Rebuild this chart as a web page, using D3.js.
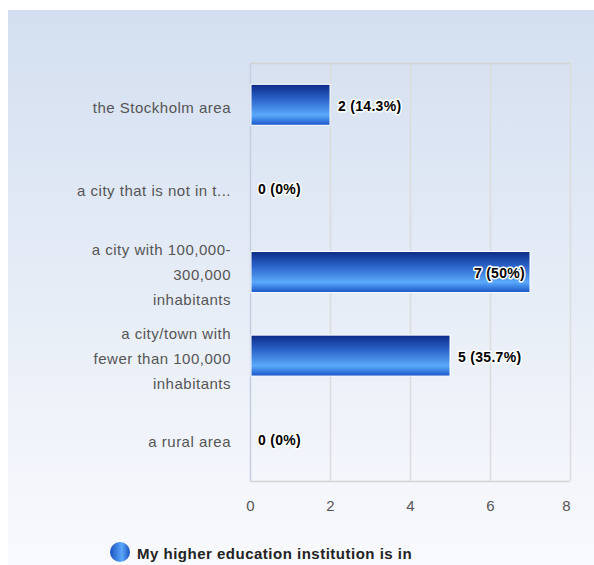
<!DOCTYPE html>
<html><head><meta charset="utf-8">
<script src="https://cdn.jsdelivr.net/npm/d3@7"></script>
<style>body{margin:0;background:#fff;}svg{display:block;font-family:Arial,"Liberation Sans",sans-serif;}</style>
</head><body><svg id="c" width="594" height="565"></svg>
<script>
const categories = [
  ["the Stockholm area"],
  ["a city that is not in t..."],
  ["a city with 100,000-","300,000","inhabitants"],
  ["a city/town with","fewer than 100,000","inhabitants"],
  ["a rural area"]
];
const counts = [2, 0, 7, 5, 0];
const percents = ["14.3%", "0%", "50%", "35.7%", "0%"];
const xTicks = [0, 2, 4, 6, 8];
const seriesName = "My higher education institution is in";

(function(){
const svg = d3.select("#c");
const defs = svg.append("defs");
const bg = defs.append("linearGradient").attr("id","bg").attr("x1",0).attr("y1",0).attr("x2",0).attr("y2",1);
bg.append("stop").attr("offset","0%").attr("stop-color","#d3dff0");
bg.append("stop").attr("offset","100%").attr("stop-color","#f9fafd");
const bar = defs.append("linearGradient").attr("id","bar").attr("x1",0).attr("y1",0).attr("x2",0).attr("y2",1);
bar.append("stop").attr("offset","0%").attr("stop-color","#0b2a86");
bar.append("stop").attr("offset","35%").attr("stop-color","#2a62c8");
bar.append("stop").attr("offset","75%").attr("stop-color","#5aa9fb");
bar.append("stop").attr("offset","100%").attr("stop-color","#1a55c8");
const leg = defs.append("linearGradient").attr("id","leg").attr("x1",0).attr("y1",0).attr("x2",1).attr("y2",0);
leg.append("stop").attr("offset","0%").attr("stop-color","#1a50c0");
leg.append("stop").attr("offset","60%").attr("stop-color","#5aa9fb");
leg.append("stop").attr("offset","100%").attr("stop-color","#1a50c0");

svg.append("rect").attr("x",8).attr("y",10).attr("width",586).attr("height",555).attr("fill","url(#bg)");

const pLeft = 250, pRight = 570, pTop = 63, pBottom = 481;
const x = d3.scaleLinear().domain([0, 8]).range([pLeft, pRight]);
const y = d3.scaleBand().domain(d3.range(categories.length)).range([pTop, pBottom]).paddingInner(0.51).paddingOuter(0.255);

svg.append("g").selectAll("line").data(xTicks.slice(1)).join("line")
  .attr("x1", d=>x(d)+0.5).attr("x2", d=>x(d)+0.5).attr("y1", pTop).attr("y2", pBottom)
  .attr("stroke","#dcdcdc").attr("stroke-width",1.5);
svg.append("line").attr("x1",pLeft).attr("x2",pRight).attr("y1",pTop+0.5).attr("y2",pTop+0.5).attr("stroke","#d4d4d4").attr("stroke-width",1.5);
svg.append("line").attr("x1",pLeft).attr("x2",pRight).attr("y1",pBottom+0.5).attr("y2",pBottom+0.5).attr("stroke","#d4d4d4").attr("stroke-width",1.5);
svg.append("line").attr("x1",pLeft+0.5).attr("x2",pLeft+0.5).attr("y1",pTop).attr("y2",pBottom).attr("stroke","#c5cde0").attr("stroke-width",1.5);

const xAxis = d3.axisBottom(x).tickValues(xTicks).tickSize(0).tickPadding(0);
const gx = svg.append("g").attr("transform",`translate(0,${pBottom+19})`).call(xAxis);
gx.select(".domain").remove();
gx.selectAll("text").attr("font-size",15).attr("fill","#555").attr("font-family","Arial, 'Liberation Sans', sans-serif")
  .attr("dx", (d,i,n)=> i === n.length-1 ? -4 : 0);

const yc = i => y(i) + y.bandwidth()/2;
const lab = svg.append("g");
categories.forEach((lines, i) => {
  const n = lines.length, lh = 25;
  lines.forEach((t, j) => {
    lab.append("text").attr("x", 231).attr("y", yc(i) + (j - (n-1)/2)*lh + 8)
      .attr("text-anchor","end").attr("font-size",15).attr("letter-spacing",0.5).attr("fill","#555").text(t);
  });
});

svg.append("g").selectAll("rect").data(counts).join("rect")
  .attr("x", x(0)+1).attr("y", (d,i)=>y(i))
  .attr("width", d=>Math.max(0, x(d)-x(0)-1)).attr("height", y.bandwidth())
  .attr("fill","url(#bar)").attr("stroke", d=>d>0?"#ffffff":"none").attr("stroke-width",1)
  .attr("display", d=>d>0?null:"none");

const vl = svg.append("g").attr("font-size",14).attr("font-weight","bold").attr("letter-spacing",0.3);
counts.forEach((d,i)=>{
  const inside = x(d) > pRight - 60;
  const t = `${d} (${percents[i]})`;
  const xx = inside ? x(d)-5 : x(d)+8;
  const anchor = inside ? "end" : "start";
  vl.append("text").attr("x",xx).attr("y",yc(i)+6).attr("text-anchor",anchor)
    .attr("stroke","#fff").attr("stroke-width",3).attr("stroke-linejoin","round").attr("fill","#fff").text(t);
  vl.append("text").attr("x",xx).attr("y",yc(i)+6).attr("text-anchor",anchor).attr("fill","#000").text(t);
});

svg.append("circle").attr("cx",120).attr("cy",552).attr("r",10).attr("fill","url(#leg)");
svg.append("text").attr("x",137).attr("y",559).attr("font-size",15).attr("font-weight","bold").attr("letter-spacing",0.5).attr("fill","#222").text(seriesName);
})();
</script></body></html>
